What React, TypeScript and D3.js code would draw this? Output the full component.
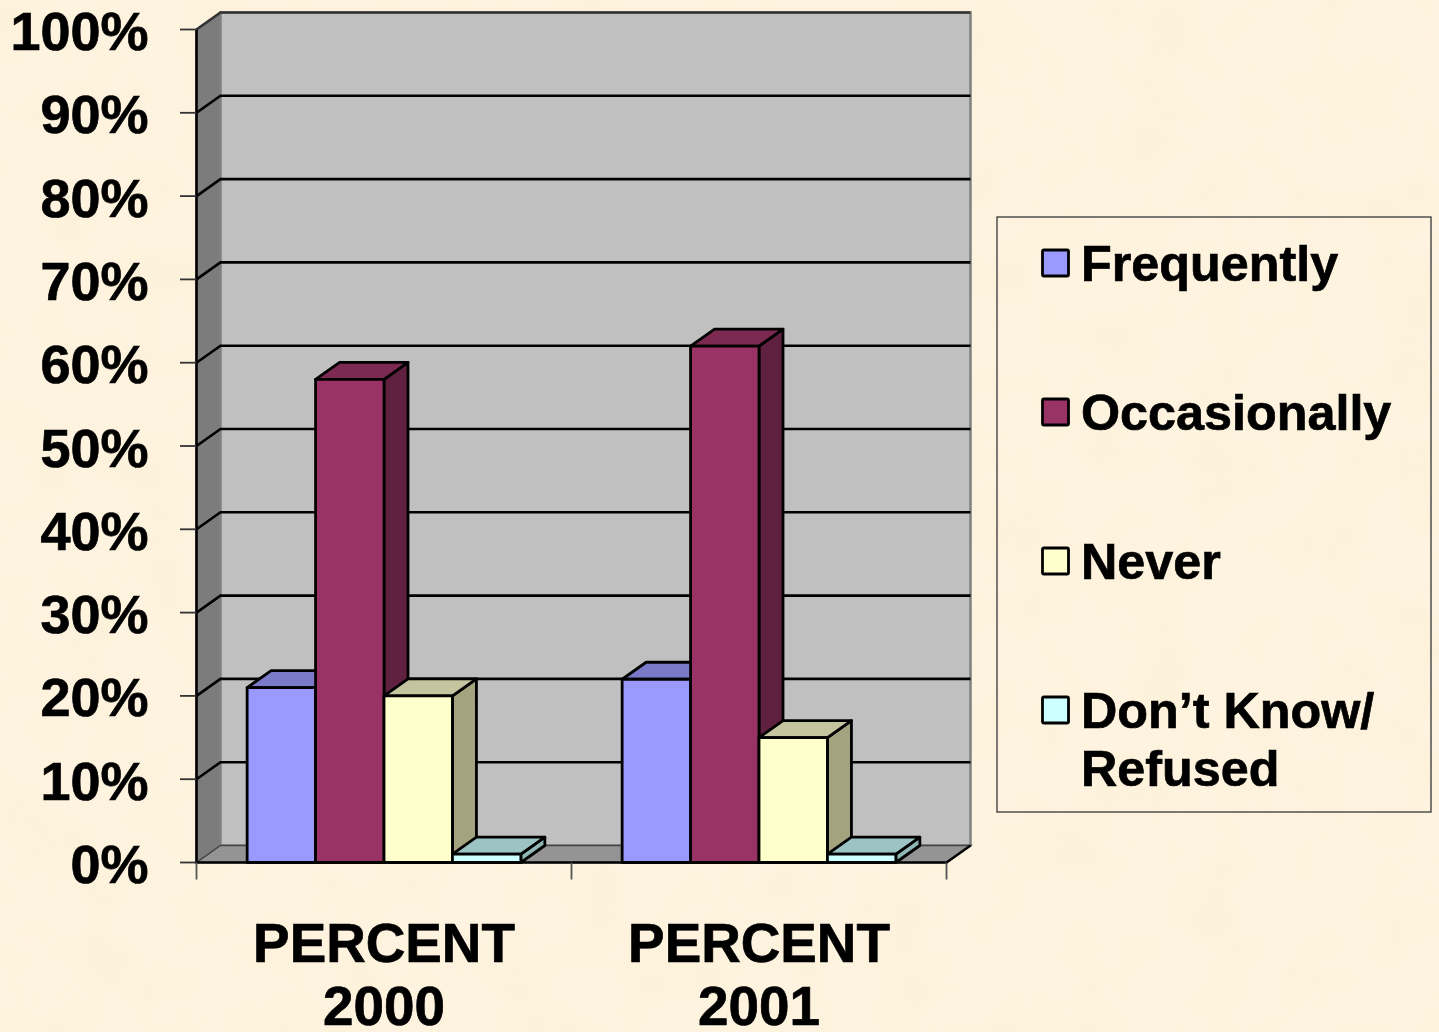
import React from 'react';
import * as d3 from 'd3';

const categories = ['PERCENT 2000', 'PERCENT 2001'];
const seriesNames = ['Frequently', 'Occasionally', 'Never', "Don't Know/ Refused"];
const seriesColors = ['#9999FF', '#993366', '#FFFFCC', '#CCFFFF'];
const topColors = ['#7A7AC8', '#7D2A53', '#C4C49E', '#9DC4C4'];
const sideColors = ['#6464A6', '#602040', '#A3A37F', '#8FB5B5'];
const values2000 = [21, 58, 20, 1];
const values2001 = [22, 62, 15, 1];
const tickValues = [0, 10, 20, 30, 40, 50, 60, 70, 80, 90, 100];

const allValues = [values2000, values2001];

const W = 1439;
const H = 1032;
const left = 196.5;
const right = 946.5;
const bottom = 862.5;
const top = 29.5;
const depthX = 24;
const depthY = 17;
const font = '"Liberation Sans", Arial, sans-serif';
const inkStroke = { stroke: '#000', strokeWidth: 0.7 };

const x = d3.scaleBand<string>().domain(categories).range([left, right]);
const y = d3.scaleLinear().domain([0, 100]).range([bottom, top]);
const inner = d3.scaleBand<string>()
  .domain(seriesNames)
  .range([0, x.bandwidth()])
  .paddingInner(0)
  .paddingOuter(0.74);

const poly = (pts: [number, number][]) => d3.line()(pts) + 'Z';

function Bar({ x0, w, value, i }: { x0: number; w: number; value: number; i: number }) {
  const yt = y(value);
  const x1 = x0 + w;
  return (
    <g stroke="#000" strokeWidth={2.8} strokeLinejoin="round">
      <path
        d={poly([[x1, bottom], [x1 + depthX, bottom - depthY], [x1 + depthX, yt - depthY], [x1, yt]])}
        fill={sideColors[i]}
      />
      <path
        d={poly([[x0, yt], [x0 + depthX, yt - depthY], [x1 + depthX, yt - depthY], [x1, yt]])}
        fill={topColors[i]}
      />
      <rect x={x0} y={yt} width={w} height={bottom - yt} fill={seriesColors[i]} />
    </g>
  );
}

const legendRows = [
  { lines: ['Frequently'], swatch: 250, i: 0 },
  { lines: ['Occasionally'], swatch: 399, i: 1 },
  { lines: ['Never'], swatch: 548, i: 2 },
  { lines: ['Don\u2019t Know/', 'Refused'], swatch: 697, i: 3 },
];

export default function App() {
  return (
    <svg
      width={W}
      height={H}
      viewBox={`0 0 ${W} ${H}`}
      style={{ position: 'absolute', left: 0, top: 0, display: 'block' }}
      fontFamily={font}
      fontWeight="bold"
    >
      <defs>
        <filter id="paper" x="0" y="0" width="100%" height="100%">
          <feTurbulence type="fractalNoise" baseFrequency="0.016" numOctaves={3} seed={4} />
          <feColorMatrix
            type="matrix"
            values="0 0 0 0 0.97  0 0 0 0 0.88  0 0 0 0 0.68  3 0 0 0 -1.2"
          />
        </filter>
      </defs>
      <rect width={W} height={H} fill="#FEF3DF" />
      <rect width={W} height={H} filter="url(#paper)" opacity={0.5} />

      {/* walls and floor */}
      <path
        d={poly([[left, top], [left + depthX, top - depthY], [left + depthX, bottom - depthY], [left, bottom]])}
        fill="#7C7C7C"
        stroke="#777"
        strokeWidth={2}
      />
      <rect
        x={left + depthX}
        y={top - depthY}
        width={right - left}
        height={bottom - top}
        fill="#C0C0C0"
        stroke="#808080"
        strokeWidth={2.5}
      />
      <path
        d={poly([[left, bottom], [left + depthX, bottom - depthY], [right + depthX, bottom - depthY], [right, bottom]])}
        fill="#949494"
        stroke="#444"
        strokeWidth={1.5}
      />
      <line
        x1={right}
        x2={right + depthX}
        y1={bottom}
        y2={bottom - depthY}
        stroke="#000"
        strokeWidth={2.5}
      />

      {/* gridlines */}
      {tickValues.slice(1).map(t => (
        <path
          key={t}
          d={d3.line()([[left, y(t)], [left + depthX, y(t) - depthY], [right + depthX, y(t) - depthY]]) || ''}
          fill="none"
          stroke={t === 100 ? '#333' : '#000'}
          strokeWidth={2.6}
        />
      ))}

      {/* bars */}
      {categories.map((c, ci) =>
        seriesNames.map((s, i) => (
          <Bar
            key={c + s}
            x0={(x(c) || 0) + (inner(s) || 0)}
            w={inner.bandwidth()}
            value={allValues[ci][i]}
            i={i}
          />
        ))
      )}

      {/* axes */}
      <line x1={left} x2={left} y1={top} y2={bottom} stroke="#000" strokeWidth={2.6} />
      <line x1={left - 1} x2={right + 1} y1={bottom} y2={bottom} stroke="#000" strokeWidth={2.6} />
      {tickValues.map(t => (
        <g key={t}>
          <line x1={left - 16.5} x2={left} y1={y(t)} y2={y(t)} stroke="#333" strokeWidth={1.8} />
          <text x={148.5} y={y(t) + 20.5} textAnchor="end" fontSize={54} fill="#000" {...inkStroke}>
            {t}%
          </text>
        </g>
      ))}
      {[left, ...categories.map(c => (x(c) || 0) + x.bandwidth())].map(v => (
        <line key={v} x1={v} x2={v} y1={bottom} y2={bottom + 17} stroke="#555" strokeWidth={1.8} />
      ))}
      {categories.map(c => {
        const cx = (x(c) || 0) + x.bandwidth() / 2;
        const [a, b] = c.split(' ');
        return (
          <text key={c} textAnchor="middle" fontSize={54.8} fill="#000" {...inkStroke}>
            <tspan x={cx} y={961.5}>{a}</tspan>
            <tspan x={cx} y={1025}>{b}</tspan>
          </text>
        );
      })}

      {/* legend */}
      <rect x={997} y={217} width={434} height={595} fill="none" stroke="#444" strokeWidth={1.4} />
      {legendRows.map(r => (
        <g key={r.i}>
          <rect
            x={1042.5}
            y={r.swatch}
            width={26}
            height={26}
            rx={1.5}
            fill={seriesColors[r.i]}
            stroke="#000"
            strokeWidth={2.8}
          />
          {r.lines.map((line, li) => (
            <text key={line} x={1081} y={r.swatch + 31 + li * 58} fontSize={50.3} fill="#000" {...inkStroke}>
              {line}
            </text>
          ))}
        </g>
      ))}
    </svg>
  );
}
